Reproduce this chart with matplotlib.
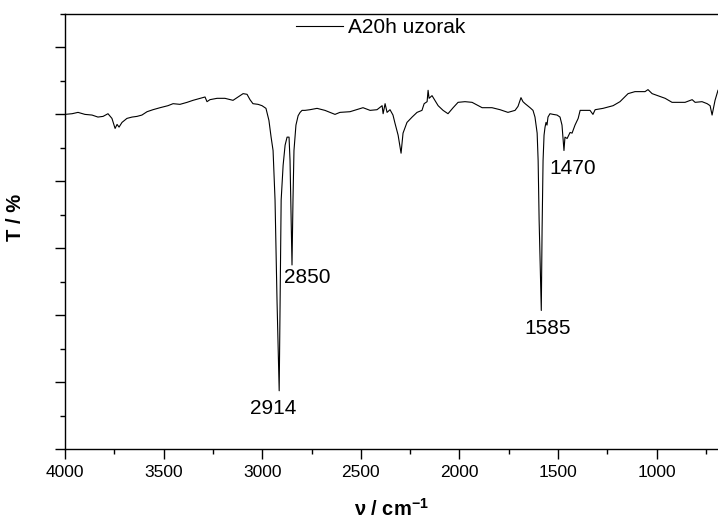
import numpy as np
import matplotlib
matplotlib.use("Agg")
import matplotlib.pyplot as plt
from matplotlib.ticker import MultipleLocator, NullFormatter

plt.rcParams["font.family"] = ["Liberation Sans", "DejaVu Sans"]
plt.rcParams["mathtext.fontset"] = "custom"
plt.rcParams["mathtext.rm"] = "Liberation Sans"
plt.rcParams["mathtext.bf"] = "Liberation Sans:bold"

# FTIR trace: wavenumber (cm-1) and transmittance (arb.)
wavenumber = [4000, 3964, 3934, 3899, 3863, 3833, 3807, 3782, 3762, 3746, 3736, 3726,
              3711, 3686, 3660, 3635, 3610, 3584, 3554, 3518, 3478, 3452, 3417, 3381,
              3351, 3315, 3290, 3280, 3265, 3229, 3189, 3148, 3123, 3097, 3077, 3062,
              3047, 3021, 3001, 2981, 2966, 2955, 2945, 2935, 2925, 2914, 2909, 2904,
              2894, 2884, 2874, 2864, 2859, 2854, 2849, 2844, 2839, 2829, 2818, 2808,
              2798, 2783, 2758, 2722, 2682, 2656, 2631, 2606, 2555, 2489, 2453, 2418,
              2392, 2387, 2377, 2367, 2352, 2337, 2327, 2311, 2296, 2286, 2266, 2240,
              2215, 2190, 2179, 2164, 2159, 2154, 2139, 2108, 2083, 2058, 2032, 2007,
              1972, 1936, 1885, 1835, 1794, 1754, 1718, 1703, 1688, 1678, 1667, 1642,
              1627, 1617, 1606, 1601, 1596, 1585, 1581, 1576, 1571, 1566, 1561, 1556,
              1551, 1541, 1525, 1505, 1490, 1480, 1470, 1465, 1454, 1439, 1429, 1414,
              1398, 1388, 1363, 1338, 1323, 1312, 1272, 1221, 1186, 1145, 1110, 1059,
              1044, 1023, 957, 922, 856, 820, 805, 770, 744, 729, 719, 704, 689]
transmittance = [50.0, 50.1, 50.3, 50.0, 49.9, 49.6, 49.7, 50.1, 49.4, 47.9, 48.5, 48.1,
                 48.8, 49.4, 49.6, 49.7, 49.9, 50.4, 50.7, 51.0, 51.3, 51.6, 51.5, 51.8,
                 52.1, 52.4, 52.6, 51.9, 52.2, 52.4, 52.4, 52.1, 52.6, 53.1, 53.0, 52.2,
                 51.6, 51.5, 51.3, 50.9, 49.1, 46.6, 44.6, 37.2, 22.2, 8.7, 22.2, 37.2,
                 42.4, 45.4, 46.6, 46.6, 43.1, 35.7, 27.5, 37.2, 44.6, 48.4, 49.8, 50.3,
                 50.6, 50.6, 50.7, 50.9, 50.6, 50.3, 50.0, 50.3, 50.4, 51.0, 50.6, 50.7,
                 51.3, 50.1, 51.6, 50.3, 50.7, 49.9, 48.7, 46.9, 44.2, 47.2, 48.8, 49.6,
                 50.3, 50.6, 51.6, 51.9, 53.6, 52.4, 52.8, 51.3, 50.6, 50.1, 51.0, 51.8,
                 51.9, 51.8, 51.0, 51.0, 50.7, 50.3, 50.6, 51.2, 52.5, 51.9, 51.6, 51.0,
                 50.6, 49.6, 47.2, 43.1, 34.2, 20.7, 32.7, 43.1, 46.9, 48.1, 48.8, 48.4,
                 49.6, 50.1, 50.0, 49.9, 49.6, 48.4, 44.6, 46.6, 46.4, 47.3, 47.2, 48.4,
                 49.4, 50.6, 50.6, 50.6, 50.0, 50.7, 50.9, 51.3, 51.9, 53.1, 53.4, 53.4,
                 53.7, 53.1, 52.4, 51.8, 51.8, 52.2, 51.8, 51.9, 51.6, 51.3, 49.9, 52.1, 53.6]

# labelled bands and label offsets (points)
peak_labels = ["2914", "2850", "1585", "1470"]
peak_pos = [2914, 2849, 1585, 1470]
peak_offsets = [(-4.5, -12.5), (11, -9), (4.5, -13), (6, -13)]

fig = plt.figure(figsize=(7.18, 5.18), dpi=100)
ax = fig.add_axes([65/718, 1 - 449/518, 1 - 65/718, 435/518])

ax.plot(wavenumber, transmittance, color="black", lw=0.8, label="A20h uzorak")

for lab, pos, off in zip(peak_labels, peak_pos, peak_offsets):
    yv = transmittance[wavenumber.index(pos)]
    ax.annotate(lab, xy=(pos, yv), xytext=off, textcoords="offset points",
                ha="center", va="center", fontsize=15)

ax.set_xlim(4000, 689)
ax.set_ylim(0, 65)
ax.xaxis.set_major_locator(MultipleLocator(500))
ax.xaxis.set_minor_locator(MultipleLocator(250))
ax.yaxis.set_major_locator(MultipleLocator(10))
ax.yaxis.set_minor_locator(MultipleLocator(5))
ax.yaxis.set_major_formatter(NullFormatter())

ax.tick_params(which="both", direction="out", width=1.0, top=False, right=False)
ax.tick_params(which="major", length=7.2, labelsize=12.5, pad=4)
ax.tick_params(which="minor", length=3.8)
ax.spines["right"].set_visible(False)
for sp in ("left", "bottom", "top"):
    ax.spines[sp].set_linewidth(1.0)

ax.set_xlabel(r"ν / cm$^{\mathbf{-1}}$", fontsize=14.5, fontweight="bold", labelpad=13)
ax.set_ylabel("T / %", fontsize=14.5, fontweight="bold")
ax.yaxis.set_label_coords(-0.061, 0.533)

ax.legend(loc="center left", bbox_to_anchor=(0.354, 0.968), frameon=False,
          fontsize=15, handlelength=2.25, handletextpad=0.25,
          borderpad=0, borderaxespad=0)

fig.savefig("out.png", dpi=100)
